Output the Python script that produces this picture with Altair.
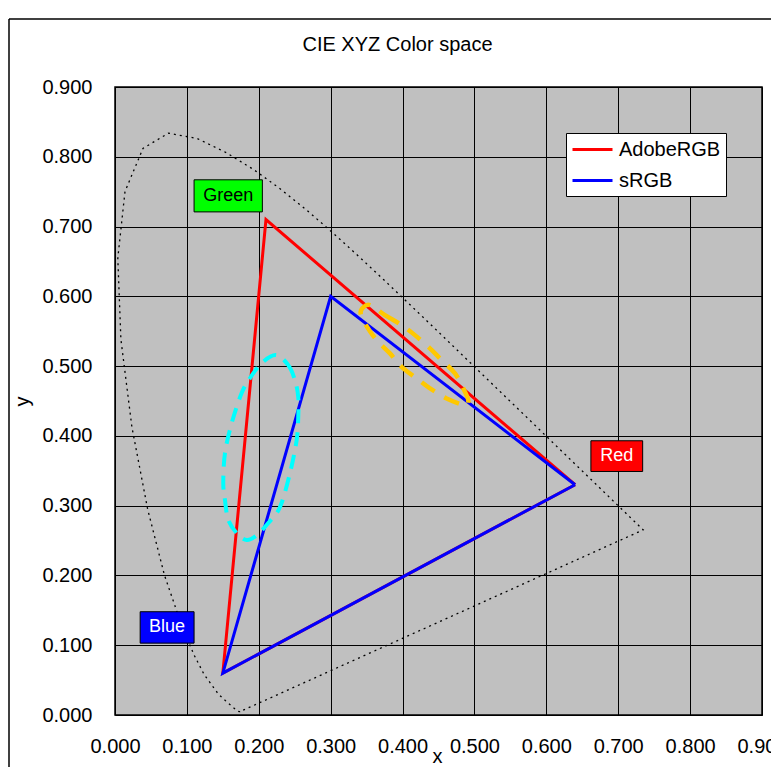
import altair as alt
import pandas as pd

# Spectral locus (CIE 1931 chromaticity)
locus_x = [0.1741, 0.1733, 0.1714, 0.1689, 0.1644, 0.1566, 0.1440, 0.1241, 0.1096,
           0.0913, 0.0687, 0.0454, 0.0235, 0.0082, 0.0039, 0.0139, 0.0389, 0.0743,
           0.1142, 0.1547, 0.1929, 0.2296, 0.2658, 0.3016, 0.3373, 0.3731, 0.4087,
           0.4441, 0.4788, 0.5125, 0.5448, 0.5752, 0.6029, 0.6270, 0.6658, 0.6915,
           0.7079, 0.7190, 0.7260, 0.7300, 0.7334, 0.7347, 0.1741]
locus_y = [0.0050, 0.0048, 0.0051, 0.0069, 0.0109, 0.0177, 0.0297, 0.0578, 0.0868,
           0.1327, 0.2007, 0.2950, 0.4127, 0.5384, 0.6548, 0.7502, 0.8120, 0.8338,
           0.8262, 0.8059, 0.7816, 0.7543, 0.7243, 0.6923, 0.6589, 0.6245, 0.5896,
           0.5547, 0.5202, 0.4866, 0.4544, 0.4242, 0.3965, 0.3725, 0.3340, 0.3083,
           0.2920, 0.2809, 0.2740, 0.2700, 0.2666, 0.2653, 0.0050]

# Gamut triangles (R, G, B, back to R)
gamut_names = ["AdobeRGB", "sRGB"]
gamut_colors = ["#FF0000", "#0000FF"]
adobe_x = [0.64, 0.21, 0.15, 0.64]
adobe_y = [0.33, 0.71, 0.06, 0.33]
srgb_x = [0.64, 0.30, 0.15, 0.64]
srgb_y = [0.33, 0.60, 0.06, 0.33]

# Cyan dashed ellipse outline
cyan_x = [0.2239, 0.2410, 0.2503, 0.2549, 0.2549, 0.2527, 0.2434, 0.2295, 0.2132,
          0.1975, 0.1832, 0.1693, 0.1576, 0.1530, 0.1506, 0.1530, 0.1623, 0.1762,
          0.1878, 0.2040]
cyan_y = [0.5158, 0.5014, 0.4799, 0.4556, 0.4269, 0.3940, 0.3467, 0.2980, 0.2751,
          0.2579, 0.2507, 0.2607, 0.2794, 0.3080, 0.3324, 0.3754, 0.4183, 0.4613,
          0.4828, 0.5043]

# Gold dashed ellipse outline
gold_x = [0.3547, 0.3755, 0.3987, 0.4172, 0.4381, 0.4544, 0.4729, 0.4844, 0.4914,
          0.4868, 0.4613, 0.4381, 0.4196, 0.3987, 0.3825, 0.3640, 0.3491, 0.3417,
          0.3453]
gold_y = [0.5874, 0.5731, 0.5587, 0.5444, 0.5254, 0.5086, 0.4895, 0.4681, 0.4513,
          0.4441, 0.4537, 0.4681, 0.4824, 0.4990, 0.5182, 0.5372, 0.5587, 0.5755,
          0.5841]

# Primary labels
label_names = ["Green", "Red", "Blue"]
label_x0 = [0.110, 0.662, 0.035]
label_x1 = [0.205, 0.734, 0.110]
label_y0 = [0.721, 0.349, 0.103]
label_y1 = [0.767, 0.393, 0.148]
label_fill = ["#00FF00", "#FF0000", "#0000FF"]
label_text_color = ["#000000", "#FFFFFF", "#FFFFFF"]

tick_values = [0.0, 0.1, 0.2, 0.3, 0.4, 0.5, 0.6, 0.7, 0.8, 0.9]

FONT = "Liberation Sans"

locus_df = pd.DataFrame({"x": locus_x, "y": locus_y, "i": range(len(locus_x))})
tri_df = pd.concat([
    pd.DataFrame({"x": adobe_x, "y": adobe_y, "i": range(4), "gamut": "AdobeRGB"}),
    pd.DataFrame({"x": srgb_x, "y": srgb_y, "i": range(4), "gamut": "sRGB"}),
])
cyan_df = pd.DataFrame({"x": cyan_x, "y": cyan_y, "i": range(len(cyan_x))})
gold_df = pd.DataFrame({"x": gold_x, "y": gold_y, "i": range(len(gold_x))})
lab_df = pd.DataFrame({"name": label_names, "x0": label_x0, "x1": label_x1,
                       "y0": label_y0, "y1": label_y1,
                       "fill": label_fill, "tc": label_text_color})
lab_df["xm"] = (lab_df["x0"] + lab_df["x1"]) / 2
lab_df["ym"] = (lab_df["y0"] + lab_df["y1"]) / 2

xscale = alt.Scale(domain=[0, 0.9], nice=False, zero=False)
yscale = alt.Scale(domain=[0, 0.9], nice=False, zero=False)

xaxis = alt.Axis(values=tick_values, format=".3f", title="x", grid=True,
                 gridColor="black", gridWidth=1, gridOpacity=1, domain=False,
                 ticks=False, labelFont=FONT, labelFontSize=20, labelColor="black",
                 labelPadding=21, titleFont=FONT, titleFontSize=20,
                 titleFontWeight="normal", titleColor="black", titleX=322,
                 titleY=47, titleBaseline="alphabetic", titleAlign="center",
                 labelFlush=False, labelOverlap=False)
yaxis = alt.Axis(values=tick_values, format=".3f", title="y", grid=True,
                 gridColor="black", gridWidth=1, gridOpacity=1, domain=False,
                 ticks=False, labelFont=FONT, labelFontSize=20, labelColor="black",
                 labelPadding=23, titleFont=FONT, titleFontSize=20,
                 titleFontWeight="normal", titleColor="black", titleX=-93,
                 titleY=314, titleAngle=270, titleBaseline="middle",
                 titleAlign="center", labelFlush=False, labelOverlap=False)

X = alt.X("x:Q", scale=xscale, axis=xaxis)
Y = alt.Y("y:Q", scale=yscale, axis=yaxis)

one = pd.DataFrame({"a": [0]})
frame_left = alt.Chart(one).mark_rule(color="black", strokeWidth=1.5).encode(
    x=alt.value(-106), y=alt.value(-68), y2=alt.value(700))
frame_top = alt.Chart(one).mark_rule(color="black", strokeWidth=1.5).encode(
    x=alt.value(-106), x2=alt.value(700), y=alt.value(-68))

locus = alt.Chart(locus_df).mark_line(
    color="black", strokeWidth=1.3, strokeDash=[2, 4]
).encode(x=X, y=Y, order="i:Q")

tri = alt.Chart(tri_df).mark_line(strokeWidth=3).encode(
    x=X, y=Y, order="i:Q",
    color=alt.Color("gamut:N",
                    scale=alt.Scale(domain=gamut_names, range=gamut_colors),
                    legend=alt.Legend(orient="none", legendX=451, legendY=46,
                                      title=None, symbolType="M-1,0H3",
                                      symbolSize=400, symbolStrokeWidth=3,
                                      labelFont=FONT, labelFontSize=20,
                                      labelColor="black", labelOffset=25,
                                      padding=5, rowPadding=9,
                                      fillColor="white", strokeColor="black",
                                      cornerRadius=0)),
)

cyan = alt.Chart(cyan_df).mark_line(
    color="#00FFFF", strokeWidth=4, strokeDash=[14, 9], interpolate="cardinal-closed"
).encode(x=X, y=Y, order="i:Q")

gold = alt.Chart(gold_df).mark_line(
    color="#FFC800", strokeWidth=4.5, strokeDash=[16, 11], interpolate="cardinal-closed"
).encode(x=X, y=Y, order="i:Q")

boxes = alt.Chart(lab_df).mark_rect(stroke="black", strokeWidth=1).encode(
    x=alt.X("x0:Q", scale=xscale, axis=xaxis), x2="x1:Q",
    y=alt.Y("y0:Q", scale=yscale, axis=yaxis), y2="y1:Q",
    fill=alt.Fill("fill:N", scale=None),
)

texts = alt.Chart(lab_df).mark_text(
    font=FONT, fontSize=18, baseline="middle", align="center"
).encode(
    x=alt.X("xm:Q", scale=xscale, axis=xaxis),
    y=alt.Y("ym:Q", scale=yscale, axis=yaxis),
    text="name:N",
    color=alt.Color("tc:N", scale=None),
)

chart = alt.layer(frame_left, frame_top, locus, tri, cyan, gold, boxes, texts).properties(
    width=647, height=628,
    title=alt.TitleParams(text="CIE XYZ Color space", font=FONT, fontSize=20,
                          fontWeight="normal", color="black", anchor="middle",
                          frame="group", dx=-41, offset=-47, baseline="middle"),
    autosize=alt.AutoSizeParams(type="none"),
    padding={"left": 107, "top": 79, "right": 9, "bottom": 52},
).configure(
    background="white",
    view=alt.ViewConfig(fill="#C0C0C0", stroke="black", strokeWidth=1.5),
)

chart.save("out.html", embed_options={"renderer": "svg", "actions": False})
